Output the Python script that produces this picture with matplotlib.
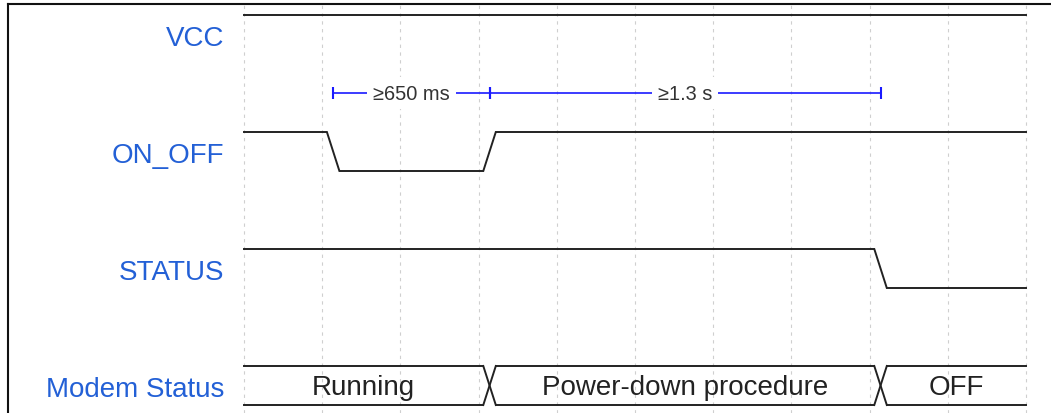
import matplotlib.pyplot as plt
from matplotlib.lines import Line2D

# signal names and one level per clock period (10 periods)
names = ["VCC", "ON_OFF", "STATUS", "Modem Status"]
vcc = [1, 1, 1, 1, 1, 1, 1, 1, 1, 1]
on_off = [1, 0, 0, 1, 1, 1, 1, 1, 1, 1]
status = [1, 1, 1, 1, 1, 1, 1, 1, 0, 0]
modem = ["Running"] * 3 + ["Power-down procedure"] * 5 + ["OFF"] * 2

# timing arrows: (from edge, to edge, text)
arrow_from = [1, 3]
arrow_to = [3, 8]
arrow_text = ["\u2265650 ms", "\u22651.3 s"]

ROW = 3          # vertical distance between rows
T0, T1 = 0.06, 0.22   # edge start / end inside a period
wave_c = "#222222"
label_c = "#2360d6"
fonts = ["Liberation Sans", "DejaVu Sans"]

fig = plt.figure(figsize=(10.51, 4.14), dpi=100)
ax = fig.add_axes([0, 0, 1, 1])
ax.axis("off")
ax.set_xlim(-244 / 78.2, (1051 - 244) / 78.2)
ax.set_ylim(1 - 398 / 39, 1 + 16 / 39)

n = len(vcc)
for i in range(n + 1):
    ax.axvline(i, ymin=0, ymax=0.988, color="#cfcfcf", lw=0.8,
               linestyle=(0, (3, 4)), zorder=0)


def wave(levels, row):
    base = -row * ROW
    xs, ys = [0], [base + levels[0]]
    for i in range(1, len(levels)):
        if levels[i] != levels[i - 1]:
            xs += [i + T0, i + T1]
            ys += [base + levels[i - 1], base + levels[i]]
    xs.append(len(levels))
    ys.append(base + levels[-1])
    ax.plot(xs, ys, color=wave_c, lw=1.4, solid_joinstyle="miter", zorder=2)


def bus(values, row):
    top, bot = -row * ROW + 1, -row * ROW
    starts = [0]
    ends = []
    for i in range(1, len(values)):
        if values[i] != values[i - 1]:
            ends.append(i + T0)
            starts.append(i + T1)
            ax.plot([i + T0, i + T1], [top, bot], color=wave_c, lw=1.4, zorder=2)
            ax.plot([i + T0, i + T1], [bot, top], color=wave_c, lw=1.4, zorder=2)
    ends.append(len(values))
    texts = [values[0]] + [values[i] for i in range(1, len(values)) if values[i] != values[i - 1]]
    for s, e, t in zip(starts, ends, texts):
        ax.plot([s, e], [top, top], color=wave_c, lw=1.4, zorder=2)
        ax.plot([s, e], [bot, bot], color=wave_c, lw=1.4, zorder=2)
        ax.text((s + e) / 2, (top + bot) / 2 - 0.05, t, ha="center", va="center",
                fontsize=20, color="#222222", family=fonts)


wave(vcc, 0)
wave(on_off, 1)
wave(status, 2)
bus(modem, 3)

for r, name in enumerate(names):
    ax.text(-0.256, -r * ROW + 0.4, name, ha="right", va="center",
            fontsize=20, color=label_c, family=fonts)

# arrows sit half way between the VCC and ON_OFF rows
mid = (T0 + T1) / 2
ay = -(ROW - 1) / 2
for a, b, t in zip(arrow_from, arrow_to, arrow_text):
    ax.plot([a + mid, b + mid], [ay, ay], color="#1a1aff", lw=1.2,
            marker="|", markersize=8, markeredgewidth=1.5, zorder=3)
    ax.text((a + b) / 2 + mid, ay, t, ha="center", va="center", fontsize=14.4,
            color="#333333", family=fonts, zorder=4,
            bbox=dict(facecolor="white", edgecolor="none", pad=4.5))

# outer frame (only the left and top edges are inside the picture)
fx = 8.3 / 1051
fy = 1 - 4.5 / 414
fig.add_artist(Line2D([fx, fx], [0, fy], transform=fig.transFigure, color="#111111", lw=1.5))
fig.add_artist(Line2D([fx, 1], [fy, fy], transform=fig.transFigure, color="#111111", lw=1.5))

fig.savefig("out.png", dpi=100)
